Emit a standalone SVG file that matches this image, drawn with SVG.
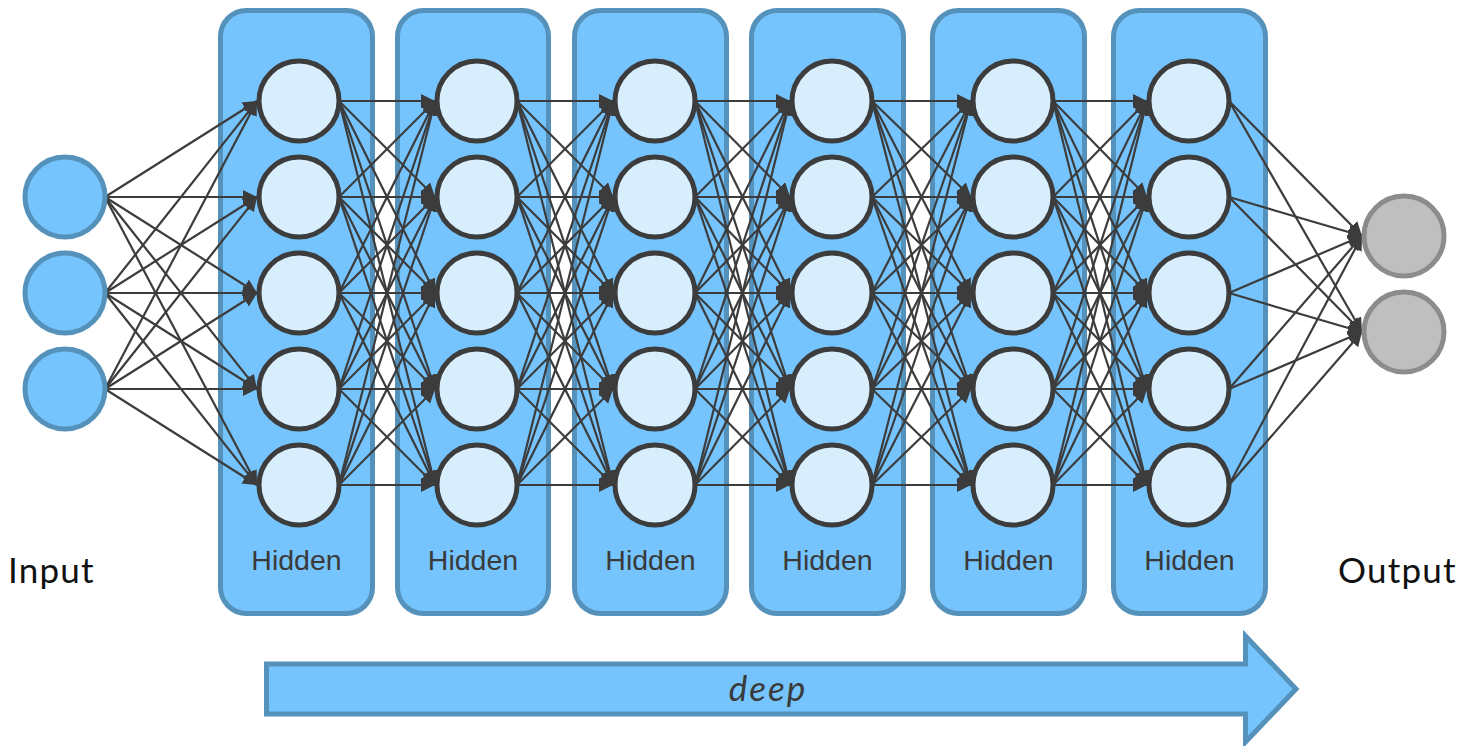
<svg xmlns="http://www.w3.org/2000/svg" width="1460" height="746" viewBox="0 0 1460 746">
<style>
.box{fill:#75C4FD;stroke:#5592BB;stroke-width:5}
.inp{fill:#75C4FD;stroke:#5592BB;stroke-width:5}
.hid{fill:#D8EEFD;stroke:#3C3C3C;stroke-width:5}
.out{fill:#BFBFBF;stroke:#8C8C8C;stroke-width:5}
.e line{stroke:#3C3C3C;stroke-width:2.2;marker-end:url(#ah)}
.hl{font-family:"Liberation Sans",Arial,sans-serif;font-size:28.5px;fill:#3A3A3A;text-anchor:middle}
.big{font-family:Lato,"Open Sans",sans-serif;font-size:35px;letter-spacing:1.2px;fill:#111}
.deep{font-family:Lato,"Open Sans",sans-serif;font-size:35px;font-style:italic;letter-spacing:2px;fill:#3A3A3A;text-anchor:middle}
</style>
<defs>
<marker id="ah" markerUnits="userSpaceOnUse" markerWidth="16" markerHeight="16" refX="14" refY="7" orient="auto">
<path d="M0,0 L14,7 L0,14 z" fill="#3C3C3C"/>
</marker>
</defs>
<rect width="1460" height="746" fill="#FFFFFF"/>
<g id="layers">
<g id="hidden1-box"><rect class="box" x="220.5" y="10.5" width="152" height="603" rx="26"/><text class="hl" x="296.5" y="570">Hidden</text></g>
<g id="hidden2-box"><rect class="box" x="397.5" y="10.5" width="151" height="603" rx="26"/><text class="hl" x="473" y="570">Hidden</text></g>
<g id="hidden3-box"><rect class="box" x="574.5" y="10.5" width="152" height="603" rx="26"/><text class="hl" x="650.5" y="570">Hidden</text></g>
<g id="hidden4-box"><rect class="box" x="751.5" y="10.5" width="152" height="603" rx="26"/><text class="hl" x="827.5" y="570">Hidden</text></g>
<g id="hidden5-box"><rect class="box" x="932.5" y="10.5" width="152" height="603" rx="26"/><text class="hl" x="1008.5" y="570">Hidden</text></g>
<g id="hidden6-box"><rect class="box" x="1113.5" y="10.5" width="152" height="603" rx="26"/><text class="hl" x="1189.5" y="570">Hidden</text></g>
</g>
<g id="connectors" class="e">
<line x1="105" y1="197" x2="257" y2="101"/><line x1="105" y1="197" x2="257" y2="197"/><line x1="105" y1="197" x2="257" y2="293"/><line x1="105" y1="197" x2="257" y2="389"/><line x1="105" y1="197" x2="257" y2="485"/>
<line x1="105" y1="293" x2="257" y2="101"/><line x1="105" y1="293" x2="257" y2="197"/><line x1="105" y1="293" x2="257" y2="293"/><line x1="105" y1="293" x2="257" y2="389"/><line x1="105" y1="293" x2="257" y2="485"/>
<line x1="105" y1="389" x2="257" y2="101"/><line x1="105" y1="389" x2="257" y2="197"/><line x1="105" y1="389" x2="257" y2="293"/><line x1="105" y1="389" x2="257" y2="389"/><line x1="105" y1="389" x2="257" y2="485"/>

<line x1="339" y1="101" x2="435" y2="101"/><line x1="339" y1="101" x2="435" y2="197"/><line x1="339" y1="101" x2="435" y2="293"/><line x1="339" y1="101" x2="435" y2="389"/><line x1="339" y1="101" x2="435" y2="485"/>
<line x1="339" y1="197" x2="435" y2="101"/><line x1="339" y1="197" x2="435" y2="197"/><line x1="339" y1="197" x2="435" y2="293"/><line x1="339" y1="197" x2="435" y2="389"/><line x1="339" y1="197" x2="435" y2="485"/>
<line x1="339" y1="293" x2="435" y2="101"/><line x1="339" y1="293" x2="435" y2="197"/><line x1="339" y1="293" x2="435" y2="293"/><line x1="339" y1="293" x2="435" y2="389"/><line x1="339" y1="293" x2="435" y2="485"/>
<line x1="339" y1="389" x2="435" y2="101"/><line x1="339" y1="389" x2="435" y2="197"/><line x1="339" y1="389" x2="435" y2="293"/><line x1="339" y1="389" x2="435" y2="389"/><line x1="339" y1="389" x2="435" y2="485"/>
<line x1="339" y1="485" x2="435" y2="101"/><line x1="339" y1="485" x2="435" y2="197"/><line x1="339" y1="485" x2="435" y2="293"/><line x1="339" y1="485" x2="435" y2="389"/><line x1="339" y1="485" x2="435" y2="485"/>

<line x1="517" y1="101" x2="613" y2="101"/><line x1="517" y1="101" x2="613" y2="197"/><line x1="517" y1="101" x2="613" y2="293"/><line x1="517" y1="101" x2="613" y2="389"/><line x1="517" y1="101" x2="613" y2="485"/>
<line x1="517" y1="197" x2="613" y2="101"/><line x1="517" y1="197" x2="613" y2="197"/><line x1="517" y1="197" x2="613" y2="293"/><line x1="517" y1="197" x2="613" y2="389"/><line x1="517" y1="197" x2="613" y2="485"/>
<line x1="517" y1="293" x2="613" y2="101"/><line x1="517" y1="293" x2="613" y2="197"/><line x1="517" y1="293" x2="613" y2="293"/><line x1="517" y1="293" x2="613" y2="389"/><line x1="517" y1="293" x2="613" y2="485"/>
<line x1="517" y1="389" x2="613" y2="101"/><line x1="517" y1="389" x2="613" y2="197"/><line x1="517" y1="389" x2="613" y2="293"/><line x1="517" y1="389" x2="613" y2="389"/><line x1="517" y1="389" x2="613" y2="485"/>
<line x1="517" y1="485" x2="613" y2="101"/><line x1="517" y1="485" x2="613" y2="197"/><line x1="517" y1="485" x2="613" y2="293"/><line x1="517" y1="485" x2="613" y2="389"/><line x1="517" y1="485" x2="613" y2="485"/>

<line x1="695" y1="101" x2="790" y2="101"/><line x1="695" y1="101" x2="790" y2="197"/><line x1="695" y1="101" x2="790" y2="293"/><line x1="695" y1="101" x2="790" y2="389"/><line x1="695" y1="101" x2="790" y2="485"/>
<line x1="695" y1="197" x2="790" y2="101"/><line x1="695" y1="197" x2="790" y2="197"/><line x1="695" y1="197" x2="790" y2="293"/><line x1="695" y1="197" x2="790" y2="389"/><line x1="695" y1="197" x2="790" y2="485"/>
<line x1="695" y1="293" x2="790" y2="101"/><line x1="695" y1="293" x2="790" y2="197"/><line x1="695" y1="293" x2="790" y2="293"/><line x1="695" y1="293" x2="790" y2="389"/><line x1="695" y1="293" x2="790" y2="485"/>
<line x1="695" y1="389" x2="790" y2="101"/><line x1="695" y1="389" x2="790" y2="197"/><line x1="695" y1="389" x2="790" y2="293"/><line x1="695" y1="389" x2="790" y2="389"/><line x1="695" y1="389" x2="790" y2="485"/>
<line x1="695" y1="485" x2="790" y2="101"/><line x1="695" y1="485" x2="790" y2="197"/><line x1="695" y1="485" x2="790" y2="293"/><line x1="695" y1="485" x2="790" y2="389"/><line x1="695" y1="485" x2="790" y2="485"/>

<line x1="872" y1="101" x2="971" y2="101"/><line x1="872" y1="101" x2="971" y2="197"/><line x1="872" y1="101" x2="971" y2="293"/><line x1="872" y1="101" x2="971" y2="389"/><line x1="872" y1="101" x2="971" y2="485"/>
<line x1="872" y1="197" x2="971" y2="101"/><line x1="872" y1="197" x2="971" y2="197"/><line x1="872" y1="197" x2="971" y2="293"/><line x1="872" y1="197" x2="971" y2="389"/><line x1="872" y1="197" x2="971" y2="485"/>
<line x1="872" y1="293" x2="971" y2="101"/><line x1="872" y1="293" x2="971" y2="197"/><line x1="872" y1="293" x2="971" y2="293"/><line x1="872" y1="293" x2="971" y2="389"/><line x1="872" y1="293" x2="971" y2="485"/>
<line x1="872" y1="389" x2="971" y2="101"/><line x1="872" y1="389" x2="971" y2="197"/><line x1="872" y1="389" x2="971" y2="293"/><line x1="872" y1="389" x2="971" y2="389"/><line x1="872" y1="389" x2="971" y2="485"/>
<line x1="872" y1="485" x2="971" y2="101"/><line x1="872" y1="485" x2="971" y2="197"/><line x1="872" y1="485" x2="971" y2="293"/><line x1="872" y1="485" x2="971" y2="389"/><line x1="872" y1="485" x2="971" y2="485"/>

<line x1="1053" y1="101" x2="1147" y2="101"/><line x1="1053" y1="101" x2="1147" y2="197"/><line x1="1053" y1="101" x2="1147" y2="293"/><line x1="1053" y1="101" x2="1147" y2="389"/><line x1="1053" y1="101" x2="1147" y2="485"/>
<line x1="1053" y1="197" x2="1147" y2="101"/><line x1="1053" y1="197" x2="1147" y2="197"/><line x1="1053" y1="197" x2="1147" y2="293"/><line x1="1053" y1="197" x2="1147" y2="389"/><line x1="1053" y1="197" x2="1147" y2="485"/>
<line x1="1053" y1="293" x2="1147" y2="101"/><line x1="1053" y1="293" x2="1147" y2="197"/><line x1="1053" y1="293" x2="1147" y2="293"/><line x1="1053" y1="293" x2="1147" y2="389"/><line x1="1053" y1="293" x2="1147" y2="485"/>
<line x1="1053" y1="389" x2="1147" y2="101"/><line x1="1053" y1="389" x2="1147" y2="197"/><line x1="1053" y1="389" x2="1147" y2="293"/><line x1="1053" y1="389" x2="1147" y2="389"/><line x1="1053" y1="389" x2="1147" y2="485"/>
<line x1="1053" y1="485" x2="1147" y2="101"/><line x1="1053" y1="485" x2="1147" y2="197"/><line x1="1053" y1="485" x2="1147" y2="293"/><line x1="1053" y1="485" x2="1147" y2="389"/><line x1="1053" y1="485" x2="1147" y2="485"/>

<line x1="1229" y1="101" x2="1362" y2="236"/><line x1="1229" y1="101" x2="1362" y2="332"/>
<line x1="1229" y1="197" x2="1362" y2="236"/><line x1="1229" y1="197" x2="1362" y2="332"/>
<line x1="1229" y1="293" x2="1362" y2="236"/><line x1="1229" y1="293" x2="1362" y2="332"/>
<line x1="1229" y1="389" x2="1362" y2="236"/><line x1="1229" y1="389" x2="1362" y2="332"/>
<line x1="1229" y1="485" x2="1362" y2="236"/><line x1="1229" y1="485" x2="1362" y2="332"/>
</g>
<g id="input-nodes">
<g id="in1"><circle class="inp" cx="65" cy="197" r="40"/></g>
<g id="in2"><circle class="inp" cx="65" cy="293" r="40"/></g>
<g id="in3"><circle class="inp" cx="65" cy="389" r="40"/></g>
</g>
<g id="hidden1">
<g id="h1n1"><circle class="hid" cx="299" cy="101" r="40"/></g>
<g id="h1n2"><circle class="hid" cx="299" cy="197" r="40"/></g>
<g id="h1n3"><circle class="hid" cx="299" cy="293" r="40"/></g>
<g id="h1n4"><circle class="hid" cx="299" cy="389" r="40"/></g>
<g id="h1n5"><circle class="hid" cx="299" cy="485" r="40"/></g>
</g>
<g id="hidden2">
<g id="h2n1"><circle class="hid" cx="477" cy="101" r="40"/></g>
<g id="h2n2"><circle class="hid" cx="477" cy="197" r="40"/></g>
<g id="h2n3"><circle class="hid" cx="477" cy="293" r="40"/></g>
<g id="h2n4"><circle class="hid" cx="477" cy="389" r="40"/></g>
<g id="h2n5"><circle class="hid" cx="477" cy="485" r="40"/></g>
</g>
<g id="hidden3">
<g id="h3n1"><circle class="hid" cx="655" cy="101" r="40"/></g>
<g id="h3n2"><circle class="hid" cx="655" cy="197" r="40"/></g>
<g id="h3n3"><circle class="hid" cx="655" cy="293" r="40"/></g>
<g id="h3n4"><circle class="hid" cx="655" cy="389" r="40"/></g>
<g id="h3n5"><circle class="hid" cx="655" cy="485" r="40"/></g>
</g>
<g id="hidden4">
<g id="h4n1"><circle class="hid" cx="832" cy="101" r="40"/></g>
<g id="h4n2"><circle class="hid" cx="832" cy="197" r="40"/></g>
<g id="h4n3"><circle class="hid" cx="832" cy="293" r="40"/></g>
<g id="h4n4"><circle class="hid" cx="832" cy="389" r="40"/></g>
<g id="h4n5"><circle class="hid" cx="832" cy="485" r="40"/></g>
</g>
<g id="hidden5">
<g id="h5n1"><circle class="hid" cx="1013" cy="101" r="40"/></g>
<g id="h5n2"><circle class="hid" cx="1013" cy="197" r="40"/></g>
<g id="h5n3"><circle class="hid" cx="1013" cy="293" r="40"/></g>
<g id="h5n4"><circle class="hid" cx="1013" cy="389" r="40"/></g>
<g id="h5n5"><circle class="hid" cx="1013" cy="485" r="40"/></g>
</g>
<g id="hidden6">
<g id="h6n1"><circle class="hid" cx="1189" cy="101" r="40"/></g>
<g id="h6n2"><circle class="hid" cx="1189" cy="197" r="40"/></g>
<g id="h6n3"><circle class="hid" cx="1189" cy="293" r="40"/></g>
<g id="h6n4"><circle class="hid" cx="1189" cy="389" r="40"/></g>
<g id="h6n5"><circle class="hid" cx="1189" cy="485" r="40"/></g>
</g>
<g id="output-nodes">
<g id="out1"><circle class="out" cx="1404" cy="236" r="40"/></g>
<g id="out2"><circle class="out" cx="1404" cy="332" r="40"/></g>
</g>
<g id="labels">
<text class="big" x="8" y="583">Input</text>
<text class="big" x="1338" y="583">Output</text>
</g>
<g id="deep-arrow">
<path d="M266.5,664 L1245.5,664 L1245.5,636 L1296,689 L1245.5,742 L1245.5,714 L266.5,714 Z" fill="#75C4FD" stroke="#5592BB" stroke-width="5"/>
<text class="deep" x="768" y="701">deep</text>
</g>
</svg>
